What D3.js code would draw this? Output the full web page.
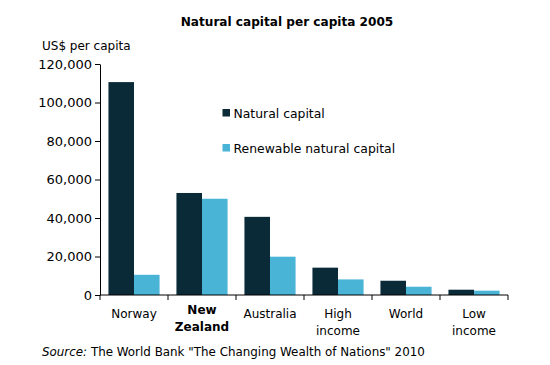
<!DOCTYPE html>
<html>
<head>
<meta charset="utf-8">
<script src="https://cdn.jsdelivr.net/npm/d3@7"></script>
<style>
  body { margin: 0; background: #fff; }
  svg { display: block; font-family: "DejaVu Sans", Verdana, sans-serif; }
</style>
</head>
<body>
<svg id="chart"></svg>
<script>
const categories = ["Norway", "New Zealand", "Australia", "High income", "World", "Low income"];
const labelLines = [["Norway"], ["New", "Zealand"], ["Australia"], ["High", "income"], ["World"], ["Low", "income"]];
const naturalCapital = [110600, 53000, 40600, 14200, 7400, 2750];
const renewableCapital = [10500, 50000, 19900, 8100, 4300, 2250];
const seriesNames = ["Natural capital", "Renewable natural capital"];
const yTicks = [0, 20000, 40000, 60000, 80000, 100000, 120000];

const width = 550;
const height = 365;
const marginTop = 64;
const marginRight = 42;
const marginBottom = 70;
const marginLeft = 100;
const colors = ["#0a2a37", "#4ab4d7"];

const svg = d3.select("#chart")
    .attr("width", width)
    .attr("height", height);

const x = d3.scaleBand()
    .domain(categories)
    .range([marginLeft, width - marginRight]);

const x1 = d3.scaleBand()
    .domain(seriesNames)
    .range([0, x.bandwidth()])
    .paddingOuter(0.33)
    .paddingInner(0);

const y = d3.scaleLinear()
    .domain([0, 120000])
    .range([height - marginBottom, marginTop]);

// 标题
svg.append("text")
    .attr("x", 287)
    .attr("y", 26)
    .attr("text-anchor", "middle")
    .attr("font-size", "12.1px")
    .attr("font-weight", "bold")
    .text("Natural capital per capita 2005");

svg.append("text")
    .attr("x", 42)
    .attr("y", 50)
    .attr("font-size", "12px")
    .text("US$ per capita");

// 柱子
const group = svg.selectAll(".bar-group")
    .data(categories)
    .join("g")
    .attr("class", "bar-group")
    .attr("transform", d => `translate(${x(d)},0)`);

group.append("rect")
    .attr("x", x1(seriesNames[0]))
    .attr("y", (d, i) => y(naturalCapital[i]))
    .attr("width", x1.bandwidth())
    .attr("height", (d, i) => y(0) - y(naturalCapital[i]))
    .attr("fill", colors[0]);

group.append("rect")
    .attr("x", x1(seriesNames[1]))
    .attr("y", (d, i) => y(renewableCapital[i]))
    .attr("width", x1.bandwidth())
    .attr("height", (d, i) => y(0) - y(renewableCapital[i]))
    .attr("fill", colors[1]);

// y轴
svg.append("g")
    .attr("transform", `translate(${marginLeft},0)`)
    .call(d3.axisLeft(y).tickValues(yTicks).tickSize(5).tickSizeOuter(0).tickFormat(d3.format(",")))
    .attr("font-family", null)
    .attr("font-size", null)
    .call(g => g.selectAll("text").attr("font-size", "13px").attr("fill", "#000").attr("x", -8))
    .call(g => g.selectAll("line, path").attr("stroke", "#000"));

// x轴
const xAxis = svg.append("g")
    .attr("transform", `translate(0,${y(0)})`);
xAxis.append("line")
    .attr("x1", marginLeft)
    .attr("x2", width - marginRight)
    .attr("stroke", "#000");
xAxis.selectAll(".tick")
    .data(categories.concat([null]))
    .join("line")
    .attr("class", "tick")
    .attr("x1", d => d === null ? width - marginRight : x(d))
    .attr("x2", d => d === null ? width - marginRight : x(d))
    .attr("y1", 0)
    .attr("y2", 5)
    .attr("stroke", "#000");

xAxis.selectAll(".cat")
    .data(categories)
    .join("text")
    .attr("class", "cat")
    .attr("x", d => x(d) + x.bandwidth() / 2)
    .attr("y", d => d === "New Zealand" ? 19 : 23)
    .attr("text-anchor", "middle")
    .attr("font-size", "12px")
    .attr("font-weight", d => d === "New Zealand" ? "bold" : "normal")
    .each(function (d, i) {
        d3.select(this).selectAll("tspan")
            .data(labelLines[i])
            .join("tspan")
            .attr("x", x(d) + x.bandwidth() / 2)
            .attr("dy", (t, j) => j === 0 ? 0 : 16.5)
            .text(t => t);
    });

// 图例
const legend = svg.append("g")
    .attr("transform", "translate(222.5,109)");
seriesNames.forEach((name, i) => {
    legend.append("rect")
        .attr("x", 0)
        .attr("y", i * 35)
        .attr("width", 7.5)
        .attr("height", 7.5)
        .attr("fill", colors[i]);
    legend.append("text")
        .attr("x", 11)
        .attr("y", i * 35 + 8.5)
        .attr("font-size", "12.4px")
        .text(name);
});

// 来源
const source = svg.append("text")
    .attr("x", 42)
    .attr("y", 356)
    .attr("font-size", "11.9px");
source.append("tspan")
    .attr("font-style", "italic")
    .text("Source:");
source.append("tspan")
    .text(" The World Bank \"The Changing Wealth of Nations\" 2010");
</script>
</body>
</html>
